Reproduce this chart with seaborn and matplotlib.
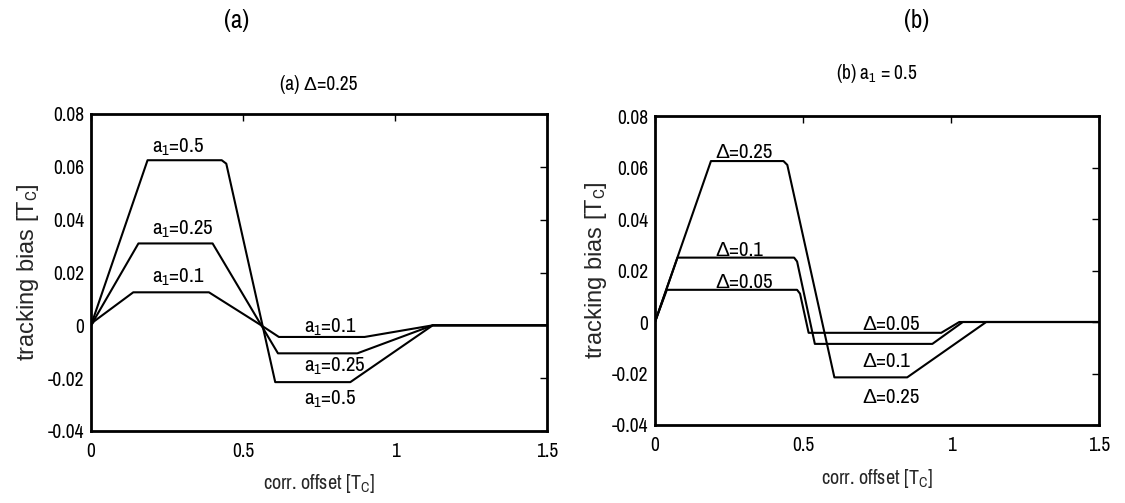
import matplotlib
matplotlib.use("Agg")
import matplotlib.pyplot as plt
import seaborn as sns
import pandas as pd
from matplotlib import font_manager

# ---------------- data ----------------
# Panel (a): Delta = 0.25, varying a1
a_series = ["a1=0.5", "a1=0.25", "a1=0.1"]
a_x_05 = [0.0, 0.186, 0.43, 0.445, 0.606, 0.853, 1.124, 1.5]
a_y_05 = [0.0, 0.0625, 0.0625, 0.0612, -0.0215, -0.0215, 0.0, 0.0]
a_x_025 = [0.0, 0.156, 0.40, 0.615, 0.876, 1.124, 1.5]
a_y_025 = [0.0, 0.0310, 0.0310, -0.0106, -0.0106, 0.0, 0.0]
a_x_01 = [0.0, 0.01, 0.139, 0.388, 0.56, 0.618, 0.90, 1.124, 1.5]
a_y_01 = [0.0, 0.0015, 0.0125, 0.0125, 0.0, -0.0044, -0.0044, 0.0, 0.0]

# Panel (b): a1 = 0.5, varying Delta
b_series = ["D=0.25", "D=0.1", "D=0.05"]
b_x_025 = [0.0, 0.189, 0.434, 0.447, 0.606, 0.852, 1.119, 1.5]
b_y_025 = [0.0, 0.0625, 0.0625, 0.0610, -0.0215, -0.0215, 0.0, 0.0]
b_x_01 = [0.0, 0.076, 0.47, 0.48, 0.54, 0.937, 1.04, 1.5]
b_y_01 = [0.0, 0.0250, 0.0250, 0.0235, -0.0085, -0.0085, 0.0, 0.0]
b_x_005 = [0.0, 0.040, 0.48, 0.49, 0.519, 0.967, 1.028, 1.5]
b_y_005 = [0.0, 0.0125, 0.0125, 0.0110, -0.0042, -0.0042, 0.0, 0.0]

x_ticks = [0, 0.5, 1, 1.5]
x_ticklabels = ["0", "0.5", "1", "1.5"]
y_ticks = [-0.04, -0.02, 0, 0.02, 0.04, 0.06, 0.08]
y_ticklabels = ["-0.04", "-0.02", "0", "0.02", "0.04", "0.06", "0.08"]

a_labels = [r"a$_1$=0.5", r"a$_1$=0.25", r"a$_1$=0.1",
            r"a$_1$=0.1", r"a$_1$=0.25", r"a$_1$=0.5"]
b_labels = ["Δ=0.25", "Δ=0.1", "Δ=0.05", "Δ=0.05", "Δ=0.1", "Δ=0.25"]

# ---------------- style ----------------
sns.set_theme(style="white")
names = {f.name for f in font_manager.fontManager.ttflist}
NARROW = "Archivo Narrow" if "Archivo Narrow" in names else "Liberation Sans"
plt.rcParams["font.family"] = [NARROW, "Liberation Sans", "DejaVu Sans"]
plt.rcParams["mathtext.fontset"] = "custom"
plt.rcParams["mathtext.rm"] = NARROW
plt.rcParams["mathtext.it"] = NARROW
plt.rcParams["mathtext.sf"] = NARROW
plt.rcParams["axes.edgecolor"] = "black"
plt.rcParams["text.color"] = "black"

W, H = 1125, 503
fig = plt.figure(figsize=(W / 100, H / 100), dpi=100)

def px_axes(l, t, r, b):
    return fig.add_axes([l / W, 1 - b / H, (r - l) / W, (b - t) / H])

ax1 = px_axes(91, 114, 547, 431)
ax2 = px_axes(655, 116, 1099, 425)


def frame(xs, ys, names_):
    rows = []
    for xx, yy, nm in zip(xs, ys, names_):
        for a, b in zip(xx, yy):
            rows.append({"x": a, "y": b, "s": nm})
    return pd.DataFrame(rows)

dfa = frame([a_x_05, a_x_025, a_x_01], [a_y_05, a_y_025, a_y_01], a_series)
dfb = frame([b_x_025, b_x_01, b_x_005], [b_y_025, b_y_01, b_y_005], b_series)

for ax, df, ser in [(ax1, dfa, a_series), (ax2, dfb, b_series)]:
    sns.lineplot(data=df, x="x", y="y", hue="s", hue_order=ser,
                 palette=["black"] * 3, sort=False, estimator=None,
                 legend=False, linewidth=1.5, ax=ax)
    ax.set_xlim(0, 1.5)
    ax.set_ylim(-0.04, 0.08)
    ax.set_xticks(x_ticks)
    ax.set_xticklabels(x_ticklabels)
    ax.set_yticks(y_ticks)
    ax.set_yticklabels(y_ticklabels)
    ax.tick_params(direction="in", top=True, right=True, length=5, width=1,
                   labelsize=14, colors="black")
    ax.tick_params(axis="x", pad=8)
    ax.tick_params(axis="y", pad=5)
    for sp in ax.spines.values():
        sp.set_linewidth(2.0)
        sp.set_color("black")
    ax.set_xlabel(r"corr. offset [T$_C$]", fontsize=14.5)
    ax.set_ylabel(r"tracking bias [T$_C$]", fontsize=17,
                  family=["Liberation Sans", "DejaVu Sans"])

ax1.xaxis.set_label_coords(0.5, -0.128)
ax2.xaxis.set_label_coords(0.5, -0.135)
ax1.yaxis.set_label_coords(-0.110, 0.5)
ax2.yaxis.set_label_coords(-0.104, 0.5)

ax1.set_title("(a) Δ=0.25", fontsize=14, pad=17)
ax2.set_title(r"(b) a$_1$ = 0.5", fontsize=14, pad=27)

# curve annotations (x, baseline y) in data coordinates
a_pos = [(0.2, 0.0655), (0.2, 0.0342), (0.2, 0.0160),
         (0.7, -0.0029), (0.7, -0.0175), (0.7, -0.0301)]
b_pos = [(0.204, 0.0636), (0.204, 0.0257), (0.204, 0.0133),
         (0.702, -0.0030), (0.702, -0.0173), (0.702, -0.0316)]
for ax, labs, pos in [(ax1, a_labels, a_pos), (ax2, b_labels, b_pos)]:
    for t, (xx, yy) in zip(labs, pos):
        ax.text(xx, yy, t, fontsize=15, va="baseline", ha="left")

fig.text(237 / W, 1 - 21 / H, "(a)", fontsize=18, ha="center", va="center")
fig.text(917 / W, 1 - 21 / H, "(b)", fontsize=18, ha="center", va="center")

fig.savefig("out.png", dpi=100, facecolor="white")
